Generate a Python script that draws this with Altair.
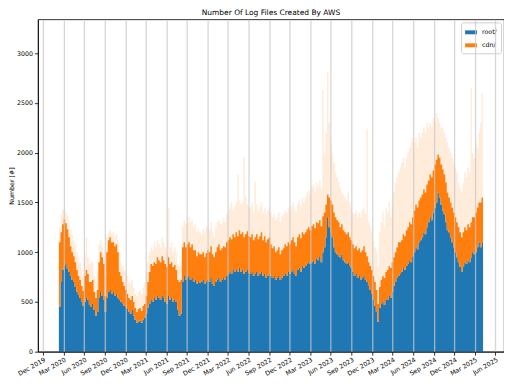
import altair as alt
import pandas as pd

TITLE = "Number Of Log Files Created By AWS"
Y_TITLE = "Number [#]"
SERIES = ["root/", "cdn/"]
COLORS = ["#1f77b4", "#ff7f0e"]
FIRST_WEEK = "2020-02-10"
X_START = "2019-11-09"
X_END = "2025-07-09"
TICK_DATES = ["2019-12-01", "2020-03-01", "2020-06-01", "2020-09-01", "2020-12-01",
              "2021-03-01", "2021-06-01", "2021-09-01", "2021-12-01",
              "2022-03-01", "2022-06-01", "2022-09-01", "2022-12-01",
              "2023-03-01", "2023-06-01", "2023-09-01", "2023-12-01",
              "2024-03-01", "2024-06-01", "2024-09-01", "2024-12-01",
              "2025-03-01", "2025-06-01"]
Y_TICKS = [0, 500, 1000, 1500, 2000, 2500, 3000]
Y_MAX = 3340

# weekly typical counts of root/ files (one line per month)
root_files = [
    450, 700, 820,
    860, 880, 830, 800, 760,
    720, 700, 650, 600,
    570, 540, 500, 460,
    500, 540, 520, 470, 450,
    480, 420, 360, 400,
    540, 600, 560, 520, 400,
    540, 600, 620, 580,
    600, 560, 580, 540,
    520, 500, 480, 460, 450,
    430, 400, 380, 420,
    # 2021
    360, 320, 290, 300,
    310, 290, 320, 340,
    380, 440, 480, 520, 500,
    540, 520, 560, 540,
    520, 560, 540, 500, 480,
    560, 520, 540, 500,
    520, 500, 420, 360,
    380, 700, 760, 720, 740,
    760, 720, 740, 700,
    720, 680, 700, 690,
    700, 720, 680, 700, 720,
    700, 740, 680, 660,
    # 2022
    700, 720, 740, 700, 720,
    740, 720, 760, 780,
    800, 780, 820, 800,
    820, 800, 840, 800,
    820, 780, 800, 820, 790,
    780, 800, 760, 780,
    800, 760, 780, 800,
    760, 780, 740, 760, 780,
    760, 740, 760, 720,
    740, 760, 720, 740, 760,
    780, 760, 800, 780,
    800, 820, 780, 760,
    # 2023
    820, 840, 800, 860, 840,
    860, 880, 900, 880,
    900, 920, 880, 940,
    920, 960, 900, 1000,
    1050, 1150, 1350, 1250, 1200,
    1150, 1050, 1000, 980,
    960, 950, 980, 920, 900,
    880, 900, 860, 840,
    800, 760, 780, 740,
    760, 720, 740, 760, 720,
    700, 660, 620, 580,
    520, 460, 400, 300,
    # 2024
    440, 480, 500, 470, 520,
    520, 560, 540, 600,
    660, 700, 740, 760,
    780, 800, 840, 820, 860,
    880, 920, 900, 960,
    1000, 1050, 1030, 1100,
    1120, 1150, 1200, 1180, 1250,
    1300, 1350, 1320, 1400,
    1450, 1500, 1600, 1550, 1480,
    1420, 1380, 1300, 1220,
    1200, 1150, 1100, 1050,
    1000, 950, 900, 850, 800,
    # 2025
    850, 900, 880, 920,
    900, 950, 1000, 980,
    1000, 1050, 1100, 1050, 1100,
]

# weekly typical root/ + cdn/ total
total_files = [
    1100, 1200, 1280,
    1330, 1290, 1230, 1150, 1060,
    1000, 960, 900, 820,
    760, 720, 660, 610,
    760, 820, 780, 700, 700,
    720, 600, 540, 620,
    900, 1000, 950, 880, 560,
    1000, 1120, 1150, 1100,
    1100, 1060, 1080, 1000,
    800, 760, 700, 660, 620,
    580, 540, 520, 560,
    # 2021
    500, 440, 400, 430,
    440, 410, 460, 480,
    560, 700, 800, 880, 860,
    900, 880, 950, 920,
    900, 960, 920, 880, 850,
    950, 880, 900, 850,
    870, 820, 720, 700,
    720, 1050, 1100, 1050, 1080,
    1100, 1050, 1080, 1020,
    1020, 960, 1000, 980,
    980, 1000, 950, 990, 1020,
    1000, 1060, 980, 950,
    # 2022
    1000, 1050, 1080, 1020, 1040,
    1060, 1050, 1100, 1120,
    1150, 1130, 1180, 1150,
    1200, 1160, 1220, 1180,
    1200, 1150, 1180, 1210, 1160,
    1150, 1180, 1120, 1150,
    1180, 1130, 1160, 1200,
    1120, 1160, 1100, 1130, 1150,
    1080, 1040, 1060, 1000,
    1020, 1050, 980, 1020, 1040,
    1080, 1060, 1100, 1080,
    1120, 1150, 1100, 1060,
    # 2023
    1150, 1180, 1140, 1200, 1180,
    1200, 1230, 1250, 1220,
    1260, 1280, 1240, 1300,
    1290, 1320, 1260, 1360,
    1400, 1480, 1580, 1550, 1520,
    1480, 1400, 1350, 1320,
    1300, 1250, 1280, 1220, 1200,
    1180, 1200, 1150, 1120,
    1080, 1040, 1060, 1020,
    1040, 1000, 1020, 1060, 1000,
    960, 900, 860, 820,
    760, 700, 620, 480,
    # 2024
    650, 720, 760, 740, 800,
    820, 860, 840, 900,
    950, 1000, 1050, 1100,
    1100, 1120, 1180, 1160, 1220,
    1250, 1300, 1280, 1350,
    1420, 1480, 1450, 1520,
    1550, 1580, 1630, 1600, 1680,
    1720, 1780, 1750, 1820,
    1880, 1930, 1980, 1950, 1880,
    1830, 1780, 1700, 1600,
    1550, 1500, 1450, 1400,
    1350, 1300, 1250, 1200, 1150,
    # 2025
    1200, 1250, 1220, 1280,
    1250, 1300, 1350, 1350,
    1400, 1450, 1500, 1500, 1550,
]

# weekly highest daily total (faint spikes)
peak_files = [
    1250, 1380, 1430,
    1420, 1400, 1360, 1300, 1230,
    1180, 1120, 1080, 1000,
    950, 900, 820, 760,
    980, 1150, 950, 880, 900,
    900, 760, 700, 820,
    1080, 1120, 1060, 1000, 760,
    1150, 1200, 1220, 1180,
    1200, 1150, 1180, 1120,
    1000, 900, 860, 820, 800,
    760, 700, 680, 720,
    # 2021
    640, 580, 560, 600,
    620, 580, 640, 700,
    800, 900, 1000, 1050, 1020,
    1100, 1050, 1120, 1080,
    1050, 1150, 1100, 1050, 1000,
    1450, 1050, 1100, 1000,
    1050, 1000, 880, 860,
    900, 1250, 1320, 1280, 1300,
    1350, 1300, 1330, 1250,
    1280, 1200, 1230, 1200,
    1180, 1230, 1200, 1250, 1260,
    1230, 1300, 1200, 1150,
    # 2022
    1250, 1300, 1320, 1280, 1290,
    1340, 1300, 1380, 1420,
    1450, 1500, 1420, 1460,
    1500, 1780, 1520, 1480,
    1500, 1960, 1560, 1480, 1450,
    1450, 1500, 1400, 1710,
    1480, 1420, 1460, 1500,
    1400, 1450, 1380, 1420, 1450,
    1400, 1350, 1380, 1320,
    1350, 1400, 1300, 1360, 1380,
    1420, 1400, 1450, 1420,
    1460, 1500, 1440, 1400,
    # 2023
    1480, 1520, 1460, 1550, 1500,
    1560, 1600, 1620, 1580,
    1650, 1680, 1600, 1700,
    1660, 1720, 1640, 2630,
    2000, 2200, 2810, 2300, 2100,
    2000, 1900, 1800, 1750,
    1700, 1650, 1600, 1580, 1550,
    1520, 1600, 1500, 1450,
    1400, 1380, 1420, 1350,
    1400, 1350, 1420, 1450, 1380,
    2240, 1300, 1250, 1200,
    1100, 1050, 1000, 850,
    # 2024
    1200, 1300, 1400, 1250, 1450,
    1400, 1500, 1350, 1500,
    1600, 1700, 1750, 1800,
    1850, 1900, 1950, 1850, 1950,
    2000, 2050, 2100, 2150,
    2100, 2150, 2050, 2200,
    2150, 2200, 2250, 2200, 2300,
    2250, 2300, 2250, 2350,
    2300, 2400, 2350, 2300, 2250,
    2250, 2200, 2150, 2100,
    2050, 2000, 1950, 1900,
    1850, 1800, 1700, 1650, 1600,
    # 2025
    1700, 1800, 1750, 1850,
    1800, 2650, 2000, 1950,
    2100, 2050, 2200, 2300, 2600,
]

assert len(root_files) == len(total_files) == len(peak_files)

weeks = pd.date_range(FIRST_WEEK, periods=len(root_files) + 1, freq="7D")
# step areas: the last week is closed by repeating its values at the week's end
df = pd.DataFrame({
    "week": weeks.strftime("%Y-%m-%dT00:00:00Z"),
    "root": root_files + root_files[-1:],
    "total": total_files + total_files[-1:],
    "peak": peak_files + peak_files[-1:],
    "root_name": SERIES[0],
    "cdn_name": SERIES[1],
})


def ms(d):
    return int(pd.Timestamp(d, tz="UTC").value // 10**6)


x_scale = alt.Scale(type="utc", domain=[ms(X_START), ms(X_END)])
x_axis = alt.Axis(values=[ms(d) for d in TICK_DATES],
                  labelExpr="utcFormat(datum.value, '%b %Y')",
                  labelAngle=-30, labelAlign="right", labelBaseline="top",
                  labelOverlap=False, grid=True, gridColor="#c8c8c8", gridOpacity=0.75,
                  gridWidth=1.3, zindex=1, title=None, tickSize=3.5, labelPadding=1)
y_scale = alt.Scale(domain=[0, Y_MAX], nice=False, zero=True)
y_axis = alt.Axis(values=Y_TICKS, format="d", grid=False, title=Y_TITLE, titlePadding=2,
                  tickSize=3.5, labelPadding=2)
color_scale = alt.Scale(domain=SERIES, range=COLORS)
legend = alt.Legend(title=None, orient="top-right", offset=3)

base = alt.Chart(df)
x = alt.X("week:T", scale=x_scale, axis=x_axis)

peak_layer = base.mark_area(color=COLORS[1], opacity=0.15, interpolate="step-after").encode(
    x=x, y=alt.Y("peak:Q", scale=y_scale, axis=y_axis), y2="total:Q")
root_layer = base.mark_area(interpolate="step-after", opacity=1).encode(
    x=x, y=alt.Y("root:Q", scale=y_scale, axis=y_axis), y2=alt.datum(0),
    color=alt.Color("root_name:N", scale=color_scale, legend=legend))
cdn_layer = base.mark_area(interpolate="step-after", opacity=1).encode(
    x=x, y=alt.Y("total:Q", scale=y_scale, axis=y_axis), y2="root:Q",
    color=alt.Color("cdn_name:N", scale=color_scale, legend=legend))

chart = alt.layer(peak_layer, root_layer, cdn_layer).properties(
    width=467, height=333,
    title=alt.TitleParams(TITLE, fontSize=7.5, fontWeight="normal", offset=3, color="black"),
    autosize=alt.AutoSizeParams(type="none"),
    padding={"left": 30, "top": 11, "right": 0, "bottom": 24},
).configure(font="DejaVu Sans").configure_view(
    stroke="black", strokeWidth=0.8
).configure_axis(
    labelFontSize=6.3, titleFontSize=6.3, titleFontWeight="normal",
    labelColor="black", titleColor="black", domainColor="black",
    tickColor="black", domainWidth=0.8, tickWidth=0.8
).configure_legend(
    labelFontSize=6.3, labelColor="black",
    symbolType="M-1,-0.33H1V0.33H-1Z", symbolSize=144, symbolStrokeWidth=0,
    symbolOpacity=1, strokeColor="#d0d0d0", fillColor="white", padding=4,
    cornerRadius=2, rowPadding=3, labelOffset=5
)

chart.save("out.html", embed_options={"renderer": "svg", "actions": False})
